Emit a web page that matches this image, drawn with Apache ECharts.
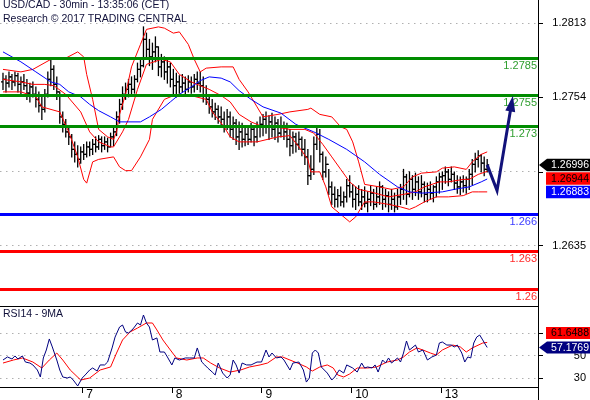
<!DOCTYPE html>
<html><head><meta charset="utf-8">
<script src="https://cdn.jsdelivr.net/npm/echarts@6/dist/echarts.min.js"></script>
<style>html,body{margin:0;padding:0;background:#fff}#c{width:590px;height:400px}</style>
</head><body><div id="c"></div>
<script>
// ---- DATA ----
const titleText = 'USD/CAD - 30min - 13:35:06 (CET)';
const subText = 'Research \u00a9 2017 TRADING CENTRAL';
const rsiTitle = 'RSI14 - 9MA';
const dayTicks = [27.5, 57.5, 87.5, 117.5, 147.5];
const dayLabels = ['7', '8', '9', '10', '13'];
const priceTicks = [1.2635, 1.2694, 1.2754, 1.2813];
const priceLabels = [1.2635, 1.2754, 1.2813];   // 1.2694 sits under the value tags
const rsiTicks = [30, 50, 70];
const rsiLabels = [30, 50];                      // 70 sits under the value tag

const opens = [1.2766,1.2768,1.2765,1.2770,1.2766,1.2771,1.2764,1.2766,1.2763,1.2757,
1.2762,1.2756,1.2752,1.2747,1.2744,1.2756,1.2768,1.2776,1.2764,1.2758,
1.2738,1.2732,1.2726,1.2722,1.2712,1.2708,1.2704,1.2710,1.2708,1.2714,
1.2712,1.2716,1.2714,1.2720,1.2715,1.2718,1.2714,1.2722,1.2726,1.2738,
1.2748,1.2756,1.2760,1.2764,1.2760,1.2768,1.2776,1.2779,1.2800,1.2792,
1.2786,1.2790,1.2794,1.2778,1.2782,1.2774,1.2778,1.2768,1.2763,1.2766,
1.2762,1.2765,1.2760,1.2766,1.2762,1.2768,1.2765,1.2763,1.2755,1.2752,
1.2746,1.2742,1.2744,1.2738,1.2736,1.2731,1.2738,1.2728,1.2733,1.2722,
1.2726,1.2720,1.2724,1.2720,1.2728,1.2722,1.2730,1.2732,1.2736,1.2730,
1.2734,1.2728,1.2733,1.2725,1.2731,1.2726,1.2720,1.2715,1.2722,1.2716,
1.2720,1.2712,1.2706,1.2691,1.2696,1.2716,1.2724,1.2708,1.2694,1.2700,
1.2682,1.2676,1.2672,1.2675,1.2670,1.2674,1.2683,1.2678,1.2672,1.2676,
1.2670,1.2674,1.2669,1.2672,1.2677,1.2668,1.2674,1.2682,1.2672,1.2675,
1.2668,1.2672,1.2666,1.2674,1.2680,1.2690,1.2676,1.2688,1.2680,1.2686,
1.2678,1.2684,1.2676,1.2680,1.2677,1.2682,1.2686,1.2690,1.2691,1.2694,
1.2688,1.2692,1.2685,1.2682,1.2686,1.2683,1.2688,1.2692,1.2700,1.2704,
1.2707,1.2701,1.2696];
const highs = [1.2773,1.2771,1.2774,1.2772,1.2774,1.2773,1.2770,1.2772,1.2768,1.2765,
1.2766,1.2762,1.2758,1.2754,1.2760,1.2774,1.2784,1.2779,1.2770,1.2758,
1.2742,1.2736,1.2730,1.2724,1.2718,1.2715,1.2714,1.2716,1.2718,1.2718,
1.2720,1.2722,1.2723,1.2722,1.2722,1.2721,1.2725,1.2730,1.2742,1.2752,
1.2762,1.2765,1.2768,1.2770,1.2771,1.2781,1.2784,1.2810,1.2805,1.2800,
1.2797,1.2802,1.2794,1.2788,1.2786,1.2784,1.2781,1.2776,1.2773,1.2771,
1.2772,1.2770,1.2771,1.2770,1.2772,1.2774,1.2774,1.2770,1.2763,1.2755,
1.2752,1.2749,1.2747,1.2746,1.2742,1.2744,1.2742,1.2738,1.2736,1.2734,
1.2733,1.2731,1.2730,1.2733,1.2731,1.2734,1.2738,1.2740,1.2742,1.2739,
1.2741,1.2738,1.2736,1.2738,1.2734,1.2733,1.2728,1.2726,1.2725,1.2726,
1.2722,1.2720,1.2712,1.2707,1.2722,1.2730,1.2728,1.2710,1.2706,1.2696,
1.2686,1.2682,1.2680,1.2682,1.2678,1.2688,1.2691,1.2684,1.2682,1.2683,
1.2680,1.2682,1.2678,1.2683,1.2680,1.2682,1.2686,1.2683,1.2680,1.2678,
1.2680,1.2677,1.2680,1.2684,1.2696,1.2692,1.2694,1.2691,1.2693,1.2690,
1.2691,1.2686,1.2685,1.2686,1.2683,1.2690,1.2693,1.2694,1.2698,1.2696,
1.2698,1.2694,1.2691,1.2690,1.2691,1.2690,1.2696,1.2704,1.2709,1.2711,
1.2708,1.2706,1.2704];
const lows = [1.2760,1.2758,1.2762,1.2760,1.2763,1.2758,1.2756,1.2760,1.2752,1.2750,
1.2754,1.2746,1.2742,1.2736,1.2742,1.2754,1.2763,1.2760,1.2752,1.2733,
1.2726,1.2722,1.2716,1.2706,1.2702,1.2698,1.2701,1.2704,1.2706,1.2707,
1.2708,1.2710,1.2712,1.2710,1.2712,1.2710,1.2714,1.2715,1.2723,1.2733,
1.2744,1.2752,1.2754,1.2755,1.2757,1.2766,1.2770,1.2778,1.2784,1.2779,
1.2776,1.2782,1.2771,1.2770,1.2768,1.2765,1.2762,1.2755,1.2754,1.2757,
1.2758,1.2756,1.2758,1.2757,1.2758,1.2760,1.2758,1.2750,1.2748,1.2741,
1.2738,1.2736,1.2733,1.2730,1.2726,1.2728,1.2722,1.2720,1.2716,1.2712,
1.2714,1.2715,1.2716,1.2718,1.2715,1.2718,1.2722,1.2723,1.2725,1.2720,
1.2722,1.2720,1.2718,1.2722,1.2720,1.2714,1.2707,1.2709,1.2710,1.2712,
1.2707,1.2700,1.2684,1.2688,1.2692,1.2712,1.2702,1.2688,1.2690,1.2676,
1.2668,1.2666,1.2666,1.2667,1.2666,1.2670,1.2674,1.2666,1.2664,1.2667,
1.2664,1.2666,1.2662,1.2667,1.2664,1.2666,1.2668,1.2664,1.2666,1.2662,
1.2664,1.2662,1.2664,1.2668,1.2672,1.2668,1.2674,1.2672,1.2675,1.2672,
1.2674,1.2670,1.2670,1.2672,1.2670,1.2674,1.2677,1.2680,1.2685,1.2683,
1.2686,1.2680,1.2677,1.2676,1.2678,1.2677,1.2680,1.2684,1.2694,1.2698,
1.2694,1.2691,1.2694];
const closes = [1.2768,1.2765,1.2770,1.2766,1.2771,1.2764,1.2766,1.2763,1.2757,1.2762,
1.2756,1.2752,1.2747,1.2744,1.2756,1.2768,1.2776,1.2764,1.2758,1.2738,
1.2732,1.2726,1.2722,1.2712,1.2708,1.2704,1.2710,1.2708,1.2714,1.2712,
1.2716,1.2714,1.2720,1.2715,1.2718,1.2714,1.2722,1.2726,1.2738,1.2748,
1.2756,1.2760,1.2764,1.2760,1.2768,1.2776,1.2779,1.2800,1.2792,1.2786,
1.2790,1.2794,1.2778,1.2782,1.2774,1.2778,1.2768,1.2763,1.2766,1.2762,
1.2765,1.2760,1.2766,1.2762,1.2768,1.2765,1.2763,1.2755,1.2752,1.2746,
1.2742,1.2744,1.2738,1.2736,1.2731,1.2738,1.2728,1.2733,1.2722,1.2726,
1.2720,1.2724,1.2720,1.2728,1.2722,1.2730,1.2732,1.2736,1.2730,1.2734,
1.2728,1.2733,1.2725,1.2731,1.2726,1.2720,1.2715,1.2722,1.2716,1.2720,
1.2712,1.2706,1.2691,1.2696,1.2716,1.2724,1.2708,1.2694,1.2700,1.2682,
1.2676,1.2672,1.2675,1.2670,1.2674,1.2683,1.2678,1.2672,1.2676,1.2670,
1.2674,1.2669,1.2672,1.2677,1.2668,1.2674,1.2682,1.2672,1.2675,1.2668,
1.2672,1.2666,1.2674,1.2680,1.2690,1.2676,1.2688,1.2680,1.2686,1.2678,
1.2684,1.2676,1.2680,1.2677,1.2682,1.2686,1.2690,1.2691,1.2694,1.2688,
1.2692,1.2685,1.2682,1.2686,1.2683,1.2688,1.2692,1.2700,1.2704,1.2707,
1.2701,1.2696,1.26996];

const upperBand = [[1,1.2776],[7,1.2774],[11,1.2776],[17,1.2784],[22,1.2785],[26,1.2790],[28,1.2786],[29,1.2772],[31,1.2752],[33,1.2728],[36,1.2722],[38,1.2720],[39,1.2726],[40,1.2740],[42,1.2756],[44,1.2778],[47,1.2796],[49,1.2808],[53,1.2810],[55,1.2809],[58,1.2805],[60,1.2806],[63,1.2796],[65,1.2784],[67,1.2774],[69,1.2777],[74,1.2778],[78,1.2778],[80,1.2768],[83,1.2758],[86,1.2746],[88,1.2738],[93,1.2740],[97,1.2742],[103,1.2744],[104,1.2745],[107,1.2740],[111,1.2738],[114,1.2730],[116,1.2728],[118,1.2718],[120,1.2702],[122,1.2684],[127,1.2682],[131,1.2680],[135,1.2682],[138,1.2690],[141,1.2693],[146,1.2694],[148,1.2697],[152,1.2698],[156,1.2696],[158,1.2702],[161,1.2708],[163,1.2710]];
const middleBand = [[1,1.2768],[7,1.2766],[11,1.2764],[15,1.2764],[18,1.2763],[22,1.2756],[27,1.2742],[30,1.2726],[33,1.2718],[37,1.2714],[38,1.2714],[41,1.2726],[43,1.2736],[46,1.2760],[49,1.2780],[54,1.2784],[57,1.2782],[60,1.2772],[64,1.2766],[67,1.2763],[70,1.2760],[74,1.2755],[77,1.2750],[80,1.2740],[84,1.2734],[87,1.2731],[92,1.2730],[97,1.2728],[102,1.2728],[105,1.2725],[108,1.2716],[111,1.2706],[114,1.2696],[117,1.2686],[120,1.2680],[124,1.2678],[130,1.2674],[135,1.2676],[139,1.2678],[142,1.2682],[147,1.2686],[150,1.2686],[155,1.2688],[157,1.2688],[160,1.2692],[163,1.26944]];
const lowerBand = [[1,1.2758],[7,1.2758],[12,1.2754],[14,1.2746],[20,1.2742],[23,1.2726],[26,1.2706],[28,1.2688],[29,1.2685],[31,1.2702],[33,1.2704],[38,1.2706],[40,1.2698],[42,1.2695],[44,1.2695],[47,1.2706],[50,1.2720],[51,1.2736],[55,1.2752],[59,1.2756],[64,1.2755],[69,1.2752],[71,1.2742],[75,1.2730],[77,1.2722],[80,1.2718],[86,1.2718],[93,1.2722],[97,1.2723],[100,1.2714],[103,1.2704],[104,1.2694],[107,1.2694],[109,1.2682],[111,1.2666],[114,1.2660],[117,1.2654],[119,1.2658],[122,1.2670],[125,1.2670],[130,1.2668],[134,1.2666],[137,1.2664],[139,1.2666],[142,1.2670],[146,1.2674],[150,1.2674],[155,1.2675],[158,1.2678],[160,1.2678],[163,1.2678]];
const maLine = [[1,1.2790],[7,1.2782],[12,1.2774],[17,1.2766],[20,1.2764],[23,1.2758],[27,1.2754],[30,1.2748],[33,1.2743],[37,1.2738],[40,1.2734],[47,1.2734],[50,1.2738],[54,1.2744],[57,1.2750],[60,1.2756],[64,1.2762],[67,1.2767],[70,1.2770],[74,1.2769],[77,1.2766],[80,1.2759],[84,1.2752],[88,1.2746],[94,1.2741],[99,1.2732],[105,1.2726],[110,1.2720],[116,1.2712],[119,1.2707],[122,1.2702],[127,1.2692],[133,1.2682],[137,1.2678],[141,1.2677],[148,1.2678],[152,1.2680],[157,1.2682],[161,1.2686],[163,1.26883]];

const levels = [1.2785, 1.2755, 1.273, 1.266, 1.263, 1.26];
const levelColors = ['#008c00', '#008c00', '#008c00', '#0000ff', '#ff0000', '#ff0000'];
const levelTextColors = ['#2f9e2f', '#2f9e2f', '#2f9e2f', '#3b3bff', '#ff2a2a', '#ff2a2a'];

const fcIdx = [163, 166.3, 171.6];
const fcVal = [1.26996, 1.2679, 1.2755];

const rsi = [[1,46.0],[2.5,48.7],[4,46.9],[5,49.6],[6,46.9],[7.5,49.6],[8.5,44.2],[10,43.3],[11,41.6],[12.5,37.1],[13.5,30.9],[14.5,47.8],[15.5,54.9],[16.5,64.7],[17.5,57.6],[19,46.0],[20,37.1],[21,30.9],[22.5,30.0],[23.5,30.9],[24.5,28.2],[26,22.9],[27.5,30.0],[28.5,32.7],[30,37.1],[31,38.9],[32.5,36.2],[33.5,41.6],[35,41.6],[36,44.2],[37.5,56.7],[38.5,66.4],[40,75.3],[41,77.1],[42,70.9],[43,70.0],[44.5,73.6],[46,78.9],[47,77.1],[48,86.0],[49,78.9],[50,75.3],[51,63.8],[52.5,65.6],[53.5,53.1],[55,53.1],[56,48.7],[57.5,41.6],[58.5,47.8],[60,46.0],[62,47.8],[63.5,47.8],[65,47.8],[66,56.7],[67.5,44.2],[68.5,41.6],[69.5,38.9],[71,35.3],[72,32.7],[73,43.3],[74.5,34.4],[76,30.0],[77,32.7],[78,46.0],[79,41.6],[80,34.4],[81,43.3],[82.5,41.6],[84,41.6],[86,44.2],[87.5,44.2],[89,54.9],[90,48.7],[91,52.2],[92.5,47.8],[94,48.7],[95,46.0],[97,37.1],[98,43.3],[100,44.2],[101.5,37.1],[102.5,26.4],[103.5,30.0],[104.5,52.2],[105.5,54.9],[106.5,52.2],[107.5,39.8],[109.5,34.4],[111,28.2],[112,30.9],[113.5,37.1],[115,34.4],[116,41.6],[118,38.9],[119.5,35.3],[121,43.3],[122,38.9],[123,39.8],[124.5,38.9],[125.5,41.6],[126.5,35.3],[128,46.0],[129,43.3],[130,47.8],[131,43.3],[133,47.8],[134,44.2],[135,52.2],[136,62.9],[137,54.9],[139,59.3],[140,53.1],[141.5,54.9],[143,46.0],[144.5,48.7],[146,50.4],[147,61.1],[148,62.0],[149.5,59.3],[151,59.3],[152,57.6],[153,59.3],[154.5,52.2],[155.5,44.2],[156.5,48.7],[157.5,47.8],[158.5,61.1],[159.5,66.4],[160.5,68.2],[161.5,63.8],[162.5,59.3],[163,57.1769]];
const rsiMa = [[1,43.3],[4.5,46.0],[7.5,47.8],[11,44.2],[14,38.9],[16.5,46.0],[19,52.2],[21,46.0],[23.5,37.1],[27,28.2],[30,30.0],[33.5,37.1],[37,39.8],[39,52.2],[41,63.8],[43.5,70.9],[46,74.4],[49,78.9],[51,78.9],[52.5,72.7],[54.5,63.8],[57,54.9],[59,47.8],[62.5,46.0],[66,47.8],[68,47.8],[70.5,43.3],[73.5,38.9],[77,35.3],[80.5,37.1],[83.5,39.8],[87,41.6],[89.5,43.3],[92.5,48.7],[94.5,48.7],[97,46.0],[99.5,43.3],[102.5,39.8],[104.5,36.2],[107,39.8],[109.5,41.6],[111.5,38.9],[113,32.7],[115,30.9],[117,33.6],[119.5,38.9],[123,38.9],[126,39.8],[129.5,44.2],[133,46.0],[135,48.7],[137,53.1],[139.5,56.7],[141.5,54.9],[144,52.2],[146,50.4],[148,54.9],[151.5,59.3],[154,57.6],[156,53.1],[158,56.7],[161.5,61.1],[163,61.6488]];

// ---- CHART ----
const FONT = '"Liberation Sans", Arial, sans-serif';
const chart = echarts.init(document.getElementById('c'), null, {renderer: 'canvas'});
const ohlc = highs.map((h, i) => [i + 1, opens[i], h, lows[i], closes[i]]);
const lineS = (data, color, xi, z) => ({type: 'line', xAxisIndex: xi, yAxisIndex: xi, data: data, showSymbol: false, symbol: 'none', silent: true, z: z, smooth: false, lineStyle: {color: color, width: 1}});

// horizontal rules drawn through the axis scale
function hRules(values, xi, z, styleFn, labelFn) {
  return {type: 'custom', xAxisIndex: xi, yAxisIndex: xi, silent: true, z: z, clip: false,
    data: values.map((v, i) => [i, v]), encode: {y: 1},
    renderItem: (params, api) => {
      const cs = params.coordSys;
      const i = api.value(0);
      const y = api.coord([0, api.value(1)])[1];
      const st = styleFn(i);
      const yy = st.lineWidth % 2 === 1 ? Math.round(y - 0.5) + 0.5 : Math.round(y);
      const ch = [{type: 'line', shape: {x1: cs.x, y1: yy, x2: cs.x + cs.width, y2: yy}, style: st}];
      if (labelFn) ch.push(labelFn(i, cs, yy));
      return {type: 'group', children: ch};
    }};
}
const dotStyle = () => ({stroke: '#b0b0b0', lineWidth: 1, lineDash: [1.5, 4.5]});

const option = {
  animation: false,
  grid: [
    {left: 0, right: 52, top: 0, height: 306, outerBoundsMode: 'none'},
    {left: 0, right: 52, top: 306, height: 81, outerBoundsMode: 'none'}
  ],
  xAxis: [
    {type: 'value', gridIndex: 0, min: 0, max: 180, axisLine: {show: true, onZero: false, lineStyle: {color: '#000', width: 1}}, axisTick: {show: false}, axisLabel: {show: false}, splitLine: {show: false}},
    {type: 'value', gridIndex: 1, min: 0, max: 180, axisLine: {show: true, onZero: false, lineStyle: {color: '#000', width: 1}},
     axisTick: {show: true, length: 6, customValues: dayTicks, lineStyle: {color: '#000'}},
     axisLabel: {show: true, customValues: dayTicks, formatter: v => dayLabels[dayTicks.indexOf(v)], align: 'left', padding: [0, 0, 0, 4], margin: 2, color: '#000', fontSize: 12, fontFamily: FONT},
     splitLine: {show: false}}
  ],
  yAxis: [
    {type: 'value', gridIndex: 0, position: 'right', min: 1.25867, max: 1.28315,
     axisLine: {show: true, onZero: false, lineStyle: {color: '#000'}},
     axisTick: {show: true, length: 5, customValues: priceTicks, lineStyle: {color: '#000'}},
     axisLabel: {show: true, customValues: priceLabels, formatter: v => v.toFixed(4), align: 'right', margin: 48, color: '#000', fontSize: 11, fontFamily: FONT},
     splitLine: {show: false}},
    {type: 'value', gridIndex: 1, position: 'right', min: 22, max: 94,
     axisLine: {show: true, onZero: false, lineStyle: {color: '#000'}},
     axisTick: {show: true, length: 5, customValues: rsiTicks, lineStyle: {color: '#000'}},
     axisLabel: {show: true, customValues: rsiLabels, formatter: v => String(v), align: 'right', margin: 48, color: '#000', fontSize: 11, fontFamily: FONT},
     splitLine: {show: false}}
  ],
  series: [
    hRules(priceTicks, 0, 1, dotStyle),
    hRules(rsiTicks, 1, 1, dotStyle),
    {type: 'custom', xAxisIndex: 0, yAxisIndex: 0, data: ohlc, z: 3, silent: true, encode: {x: 0, y: [2, 3]},
     renderItem: (params, api) => {
       const x = api.value(0);
       const po = api.coord([x, api.value(1)]);
       const ph = api.coord([x, api.value(2)]);
       const pl = api.coord([x, api.value(3)]);
       const pc = api.coord([x, api.value(4)]);
       const cx = ph[0];
       const st = {stroke: '#000', lineWidth: 1.3};
       return {type: 'group', children: [
         {type: 'line', shape: {x1: cx, y1: ph[1] - 0.5, x2: cx, y2: pl[1] + 0.5}, style: st},
         {type: 'line', shape: {x1: cx - 2, y1: po[1], x2: cx, y2: po[1]}, style: st},
         {type: 'line', shape: {x1: cx, y1: pc[1], x2: cx + 2, y2: pc[1]}, style: st}
       ]};
     }},
    lineS(upperBand, '#ff0000', 0, 4),
    lineS(middleBand, '#ff0000', 0, 4),
    lineS(lowerBand, '#ff0000', 0, 4),
    lineS(maLine, '#0000ff', 0, 4),
    hRules(levels, 0, 5, i => ({stroke: levelColors[i], lineWidth: 3}),
      (i, cs, y) => ({type: 'text', x: cs.x + cs.width - 1, y: y + 2,
        style: {text: String(levels[i]), fill: levelTextColors[i], font: '11px ' + FONT, align: 'right', verticalAlign: 'top'}})),
    {type: 'custom', xAxisIndex: 0, yAxisIndex: 0, data: fcIdx.map((x, i) => [x, fcVal[i]]), z: 7, silent: true, clip: false, encode: {x: 0, y: 1},
     renderItem: (params, api) => {
       if (params.dataIndex !== 0) return null;
       const pts = fcIdx.map((x, i) => api.coord([x, fcVal[i]]));
       const a = pts[pts.length - 2], b = pts[pts.length - 1];
       let dx = b[0] - a[0], dy = b[1] - a[1];
       const len = Math.sqrt(dx * dx + dy * dy); dx /= len; dy /= len;
       const L = 16, W = 5;
       const base = [b[0] - dx * L, b[1] - dy * L];
       const linePts = pts.slice(0, -1).concat([[b[0] - dx * (L - 2), b[1] - dy * (L - 2)]]);
       return {type: 'group', children: [
         {type: 'polyline', shape: {points: linePts}, style: {stroke: '#12127a', lineWidth: 3, fill: null, lineJoin: 'miter'}},
         {type: 'polygon', shape: {points: [b, [base[0] - dy * W, base[1] + dx * W], [base[0] + dy * W, base[1] - dx * W]]}, style: {fill: '#12127a'}}
       ]};
     }},
    lineS(rsiMa, '#ff0000', 1, 4),
    lineS(rsi, '#000080', 1, 5)
  ]
};
chart.setOption(option);

// ---- value tags on the right axis, placed through the axis scales ----
function tagEls(cy, h, color, textColor, text, arrow) {
  const top = cy - h / 2;
  const bx = arrow ? 547 : 546;
  const els = [];
  if (arrow) els.push({type: 'polygon', z: 100, shape: {points: [[539, cy], [bx, top], [bx, top + h]]}, style: {fill: color}});
  els.push({type: 'rect', z: 100, shape: {x: bx, y: top, width: 590 - bx, height: h}, style: {fill: color}});
  els.push({type: 'text', z: 101, x: 589, y: cy + 0.5, style: {text: text, fill: textColor, font: '10.5px ' + FONT, verticalAlign: 'middle', align: 'right'}});
  return els;
}
const last = closes.length - 1;
const yP = v => chart.convertToPixel({yAxisIndex: 0}, v);
const yR = v => chart.convertToPixel({yAxisIndex: 1}, v);
const H = 12.5;
const cClose = yP(closes[last]);
const cMid = Math.max(yP(middleBand[middleBand.length - 1][1]), cClose + H + 1);
const cMa = Math.max(yP(maLine[maLine.length - 1][1]), cMid + H + 1);
const rLast = rsi[rsi.length - 1][1], mLast = rsiMa[rsiMa.length - 1][1];
const cRsi = yR(rLast);
const cRsiMa = Math.min(yR(mLast), cRsi - H - 2);
const graphics = [].concat(
  tagEls(cClose, H, '#000000', '#ffffff', closes[last].toFixed(5), true),
  tagEls(cMid, H, '#ff0000', '#000000', middleBand[middleBand.length - 1][1].toFixed(5), false),
  tagEls(cMa, H, '#0000ff', '#ffffff', maLine[maLine.length - 1][1].toFixed(5), false),
  tagEls(cRsiMa, 12, '#ff0000', '#000000', mLast.toFixed(4), false),
  tagEls(cRsi, 12, '#000080', '#ffffff', rLast.toFixed(4), true),
  [
    {type: 'text', z: 50, x: 3, y: 0, style: {text: titleText, fill: '#10103a', font: '10.5px ' + FONT, verticalAlign: 'top'}},
    {type: 'text', z: 50, x: 3, y: 14, style: {text: subText, fill: '#10103a', font: '10.5px ' + FONT, verticalAlign: 'top'}},
    {type: 'text', z: 50, x: 3, y: 309, style: {text: rsiTitle, fill: '#10103a', font: '10.5px ' + FONT, verticalAlign: 'top'}},
    {type: 'line', z: 50, shape: {x1: 538.5, y1: 387, x2: 538.5, y2: 400}, style: {stroke: '#000', lineWidth: 1}}
  ]
);
chart.setOption({graphic: graphics});
</script>
</body></html>
